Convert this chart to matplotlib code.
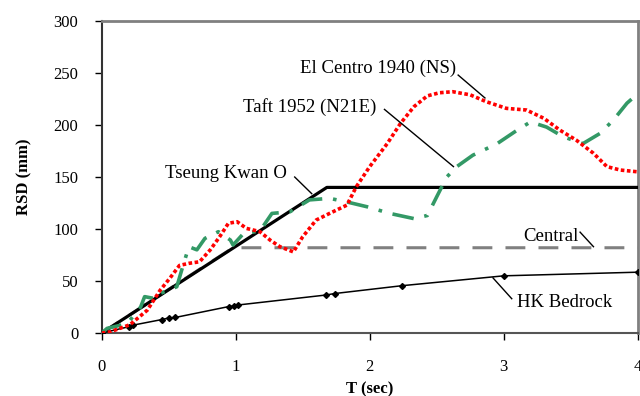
import matplotlib.pyplot as plt

plt.rcParams['font.family'] = ['Liberation Serif', 'DejaVu Serif']

# Design spectra
tko_t = [0, 1.68, 4.0]
tko_v = [0, 140, 140]

central_t = [0, 0.3, 0.5, 0.75, 0.98, 4.0]
central_v = [0, 25, 42, 63, 82, 82]

bedrock_t = [0, 0.2, 0.23, 0.45, 0.5, 0.55, 0.95, 0.99, 1.02, 1.67, 1.74, 2.24, 3.0, 4.0]
bedrock_v = [0, 6, 7.5, 13, 14.5, 15, 25.5, 26, 27, 36.5, 38, 45.5, 55, 58.5]

# Recorded ground motions
elcentro_t = [0, 0.06, 0.21, 0.34, 0.435, 0.51, 0.58, 0.65, 0.73, 0.81, 0.88, 0.945,
              1.01, 1.08, 1.18, 1.26, 1.33, 1.43, 1.5, 1.6, 1.7, 1.83, 1.9, 2.0,
              2.13, 2.23, 2.33, 2.43, 2.52, 2.62, 2.75, 2.87, 3.02, 3.17, 3.3, 3.42,
              3.54, 3.67, 3.77, 3.87, 4.0]
elcentro_v = [0, 1, 8, 22, 41, 53, 65, 67, 68.5, 80, 92.6, 105.5,
              107, 100.6, 97.5, 89, 83, 78, 92.6, 108.6, 115, 123, 140.7, 160,
              182, 201.6, 217.6, 228, 231, 232, 229, 222.4, 216, 214.4, 206.4, 195,
              185.6, 172.8, 160, 156.7, 155]

taft_t = [0, 0.04, 0.19, 0.29, 0.32, 0.4, 0.435, 0.56, 0.6, 0.65, 0.71, 0.77, 0.87,
          0.96, 0.98, 1.06, 1.18, 1.27, 1.405, 1.55, 1.7, 1.83, 1.98, 2.15, 2.33,
          2.43, 2.5, 2.575, 2.65, 2.77, 2.95, 3.1, 3.2, 3.32, 3.44, 3.59, 3.72,
          3.82, 3.92, 4.0]
taft_v = [0, 4.5, 9, 25, 35, 33, 38, 44.5, 62, 83, 80, 91, 97.4,
          89.4, 84.6, 96, 98, 115, 116.6, 128, 129.5, 126, 121.4, 115, 110,
          113, 131, 150, 160, 171, 182, 195, 203, 198, 189, 182, 192,
          205, 221, 230]

fig = plt.figure(figsize=(6.4, 3.96), dpi=100)
ax = fig.add_axes([0.159, 0.159, 0.8374, 0.788])

ax.plot(central_t, central_v, color='#808080', lw=2.2, linestyle=(0, (6.5, 4.3)), zorder=2)
ax.plot(tko_t, tko_v, color='black', lw=2.3, zorder=3)
ax.plot(bedrock_t, bedrock_v, color='black', lw=1.1, marker='D', markersize=3, zorder=4)
ax.plot(taft_t, taft_v, color='#339966', lw=2.6, linestyle=(0, (6, 3, 1, 3)), zorder=5)
ax.plot(elcentro_t, elcentro_v, color='#ff0000', lw=2.6, linestyle=(0, (1, 0.7)), zorder=6)

ax.set_xlim(0, 4)
ax.set_ylim(0, 300)
ax.set_xticks([0, 1, 2, 3, 4])
ax.set_yticks(range(0, 301, 50))
ax.tick_params(axis='both', direction='out', length=5, width=1, labelsize=12)
ax.tick_params(axis='y', pad=12)
ax.tick_params(axis='x', pad=14)

for side in ['top', 'right']:
    ax.spines[side].set_color('#808080')
    ax.spines[side].set_linewidth(2)
ax.spines['left'].set_color('#333333')
ax.spines['bottom'].set_color('#555555')
ax.spines['left'].set_linewidth(1.5)
ax.spines['bottom'].set_linewidth(1.5)

ax.set_xlabel('T (sec)', fontsize=12, fontweight='bold', labelpad=4)
ax.set_ylabel('RSD (mm)', fontsize=12, fontweight='bold', labelpad=15)

# Curve labels with leader lines
notes = [
    ('El Centro 1940 (NS)', (2.66, 248), (2.86, 226), (2.645, 254), 'right'),
    ('Taft 1952 (N21E)', (2.11, 215), (2.625, 160), (2.05, 217), 'right'),
    ('Tseung Kwan O', (1.44, 150), (1.567, 134), (1.38, 153), 'right'),
    ('Central', (3.57, 97), (3.67, 83), (3.557, 92.5), 'right'),
    ('HK Bedrock', (3.06, 33), (2.92, 53), (3.1, 29), 'left'),
]
for text, p0, p1, tp, ha in notes:
    ax.plot([p0[0], p1[0]], [p0[1], p1[1]], color='black', lw=1, zorder=7)
    ax.text(tp[0], tp[1], text, fontsize=13.5, ha=ha, va='center', zorder=8)

fig.savefig('out.png', dpi=100)
